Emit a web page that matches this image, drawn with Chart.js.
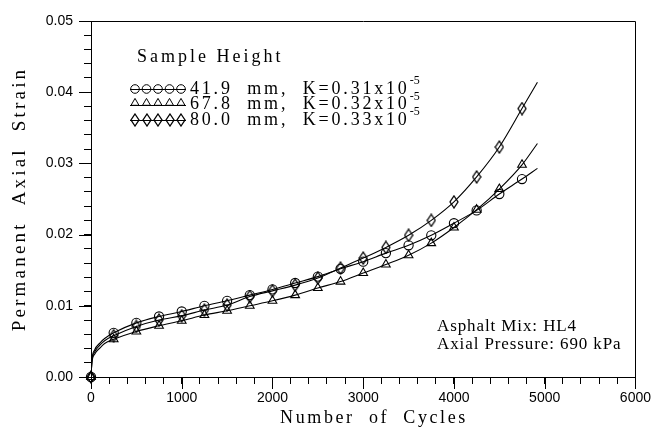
<!DOCTYPE html>
<html><head><meta charset="utf-8">
<script src="https://cdn.jsdelivr.net/npm/chart.js"></script>
<style>html,body{margin:0;padding:0;background:#fff;overflow:hidden}</style>
</head><body>
<canvas id="c" width="657" height="429" style="display:block;width:657px;height:429px"></canvas>
<script>
// ---- data ----
const cycles = [0,250,500,750,1000,1250,1500,1750,2000,2250,2500,2750,3000,3250,3500,3750,4000,4250,4500,4750];
const strain419 = [0,0.0062,0.0076,0.0085,0.0092,0.0100,0.0107,0.0115,0.0123,0.0132,0.0141,0.0152,0.0162,0.0174,0.0185,0.0199,0.0216,0.0234,0.0257,0.0278];
const strain678 = [0,0.0053,0.0064,0.0072,0.0079,0.0087,0.0093,0.0100,0.0107,0.0115,0.0125,0.0134,0.0146,0.0158,0.0171,0.0188,0.0210,0.0235,0.0264,0.0298];
const strain800 = [0,0.0058,0.0071,0.0080,0.0086,0.0094,0.0101,0.0113,0.0121,0.0129,0.0139,0.0153,0.0167,0.0182,0.0199,0.0220,0.0246,0.0281,0.0323,0.0377];
// fitted-curve points read near the origin and at the curve ends
const curveStartCycles = [10,40,100,150];
const curveStart419 = [0.0024,0.0038,0.0048,0.0054];
const curveStart678 = [0.0020,0.0032,0.0041,0.0047];
const curveStart800 = [0.0022,0.0035,0.0045,0.0051];
const curveEndCycles = [4920];
const curveEnd419 = [0.0293];
const curveEnd678 = [0.0328];
const curveEnd800 = [0.0414];
// text
const legendTitle = 'Sample Height';
const seriesLabels = ['41.9  mm,  K=0.31x10','67.8  mm,  K=0.32x10','80.0  mm,  K=0.33x10'];
const seriesExponent = ['-5','-5','-5'];
const noteLines = ['Asphalt Mix: HL4','Axial Pressure: 690 kPa'];
const xTitle = 'Number  of  Cycles';
const yTitle = 'Permanent  Axial  Strain';
const xMajorTicks = [0,1000,2000,3000,4000,5000,6000];
const yMajorTicks = [0,0.01,0.02,0.03,0.04,0.05];

// ---- helpers ----
function pts(xs, ys){ return xs.map((x,i)=>({x:x,y:ys[i]})); }
function curve(start, data, end){
  return [{x:0,y:0}].concat(pts(curveStartCycles,start), pts(cycles.slice(1),data.slice(1)), pts(curveEndCycles,end));
}
function makeDiamond(){
  const c=document.createElement('canvas'); c.width=10; c.height=14;
  const g=c.getContext('2d'); g.strokeStyle='#000'; g.lineWidth=1.3;
  g.beginPath(); g.moveTo(5,1); g.lineTo(9,7); g.lineTo(5,13); g.lineTo(1,7); g.closePath(); g.stroke();
  return c;
}
const diamond = makeDiamond();

const curveStyle = {type:'line', borderColor:'#000', borderWidth:1.1, pointRadius:0, fill:false, cubicInterpolationMode:'monotone'};
const markStyle = {type:'line', showLine:false, borderColor:'#000', backgroundColor:'rgba(0,0,0,0)', pointBorderWidth:1.1, clip:false};

const decor = {
  id:'decor',
  afterDraw(chart){
    const ctx=chart.ctx, a=chart.chartArea, xs=chart.scales.x, ys=chart.scales.y;
    ctx.save();
    ctx.strokeStyle='#000'; ctx.lineWidth=1;
    // frame
    ctx.beginPath();
    ctx.moveTo(Math.round(a.left)+0.5, Math.round(a.top)+0.5);
    ctx.lineTo(Math.round(a.right)+0.5, Math.round(a.top)+0.5);
    ctx.lineTo(Math.round(a.right)+0.5, Math.round(a.bottom)+0.5);
    ctx.stroke();
    // longer major ticks
    ctx.beginPath();
    xMajorTicks.forEach(v=>{const p=Math.round(xs.getPixelForValue(v))+0.5; ctx.moveTo(p,a.bottom); ctx.lineTo(p,a.bottom+12);});
    yMajorTicks.forEach(v=>{const p=Math.round(ys.getPixelForValue(v))+0.5; ctx.moveTo(a.left,p); ctx.lineTo(a.left-12,p);});
    ctx.stroke();

    ctx.fillStyle='#000';
    ctx.textBaseline='middle';
    ctx.textAlign='left';
    // legend
    ctx.font='18px "Liberation Serif"'; ctx.letterSpacing='3px';
    ctx.fillText(legendTitle, 137, 57);
    const rowY=[89,104.5,120];
    const mx=[135,146.5,158,169.5,181];
    rowY.forEach((y,i)=>{
      ctx.lineWidth=1;
      ctx.beginPath(); ctx.moveTo(130,Math.round(y)+0.5); ctx.lineTo(186,Math.round(y)+0.5); ctx.stroke();
      mx.forEach(x=>{
        if(i===0){ ctx.beginPath(); ctx.arc(x,y,4.3,0,Math.PI*2); ctx.stroke(); }
        else if(i===1){ const r=4.6, cy=y-1.5; ctx.beginPath(); ctx.moveTo(x,cy-r); ctx.lineTo(x+r*0.866,cy+r/2); ctx.lineTo(x-r*0.866,cy+r/2); ctx.closePath(); ctx.stroke(); }
        else { ctx.drawImage(diamond, Math.round(x-5), Math.round(y-7)); }
      });
      ctx.font='18px "Liberation Serif"'; ctx.letterSpacing='2.8px';
      ctx.fillText(seriesLabels[i], 190, y);
      const w=ctx.measureText(seriesLabels[i]).width;
      ctx.font='12px "Liberation Serif"'; ctx.letterSpacing='0px';
      ctx.fillText(seriesExponent[i], 190+w, y-8);
    });
    // note
    ctx.font='17px "Liberation Serif"'; ctx.letterSpacing='0.9px';
    ctx.fillText(noteLines[0], 437, 327);
    ctx.fillText(noteLines[1], 437, 345);
    // axis titles
    ctx.font='18px "Liberation Serif"'; ctx.letterSpacing='2.6px'; ctx.textAlign='center';
    ctx.fillText(xTitle, 374, 418);
    ctx.translate(20,(a.top+a.bottom)/2); ctx.rotate(-Math.PI/2);
    ctx.font='19px "Liberation Serif"'; ctx.letterSpacing='3.2px';
    ctx.fillText(yTitle, 0, 0);
    ctx.restore();
  }
};

new Chart(document.getElementById('c').getContext('2d'), {
  type:'line',
  data:{datasets:[
    Object.assign({data:curve(curveStart419,strain419,curveEnd419)}, curveStyle),
    Object.assign({data:curve(curveStart678,strain678,curveEnd678)}, curveStyle),
    Object.assign({data:curve(curveStart800,strain800,curveEnd800)}, curveStyle),
    Object.assign({data:pts(cycles,strain419), pointStyle:'circle', pointRadius:4.6}, markStyle),
    Object.assign({data:pts(cycles,strain678), pointStyle:'triangle', pointRadius:5}, markStyle),
    Object.assign({data:pts(cycles,strain800), pointStyle:diamond, pointRadius:5}, markStyle)
  ]},
  options:{
    responsive:false, animation:false, devicePixelRatio:1,
    layout:{padding:{top:21,right:19,left:0,bottom:0}},
    plugins:{legend:{display:false}, tooltip:{enabled:false}},
    scales:{
      x:{type:'linear', min:0, max:6000,
        afterFit(s){ s.height=52; },
        ticks:{stepSize:200, autoSkip:false, maxRotation:0, padding:6, color:'#000',
          font:{family:'Liberation Sans', size:14},
          callback:v=> (Math.round(v)%1000===0 ? String(Math.round(v)) : '')},
        grid:{drawOnChartArea:false, drawTicks:true, tickLength:7, tickColor:'#000', tickWidth:1},
        border:{display:true, color:'#000', width:1}},
      y:{type:'linear', min:0, max:0.05,
        afterFit(s){ s.width=91; },
        ticks:{stepSize:0.002, autoSkip:false, padding:11, color:'#000',
          font:{family:'Liberation Sans', size:14},
          callback:v=>{ const k=Math.round(v*500); return k%5===0 ? (k/500).toFixed(2) : ''; }},
        grid:{drawOnChartArea:false, drawTicks:true, tickLength:7, tickColor:'#000', tickWidth:1},
        border:{display:true, color:'#000', width:1}}
    }
  },
  plugins:[decor]
});
</script>
</body></html>
